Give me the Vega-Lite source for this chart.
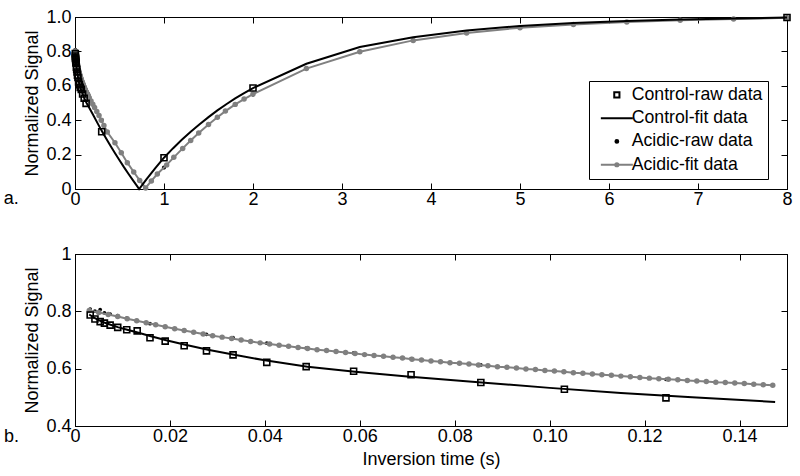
{
  "$schema": "https://vega.github.io/schema/vega-lite/v6.json",
  "padding": {"left": 3, "top": 7, "right": 5, "bottom": 5},
  "spacing": 35,
  "config": {
    "font": "Liberation Sans",
    "view": {"stroke": "black", "strokeWidth": 1},
    "axis": {"domainColor": "black", "domainWidth": 1, "tickColor": "black", "tickWidth": 1, "tickSize": -6, "labelColor": "black", "labelFont": "Liberation Sans", "labelFontSize": 18, "titleColor": "black", "titleFont": "Liberation Sans", "titleFontSize": 18, "titleFontWeight": "normal", "grid": false, "labelFlush": false, "labelOverlap": false},
    "axisX": {"labelPadding": 7},
    "axisY": {"labelPadding": 10},
    "legend": {"orient": "none", "legendX": 514, "legendY": 64, "labelFont": "Liberation Sans", "labelFontSize": 17.7, "labelColor": "black", "strokeColor": "black", "fillColor": "white", "padding": 5, "cornerRadius": 0, "symbolSize": 64, "symbolStrokeWidth": 2, "symbolOffset": 14, "labelOffset": 6, "rowPadding": 4.3, "symbolOpacity": 1}
  },
  "datasets": {
    "rawC": [
      {"t": 0.0032, "v": 0.787}, {"t": 0.0042, "v": 0.773}, {"t": 0.0053, "v": 0.764}, {"t": 0.0062, "v": 0.759}, {"t": 0.0074, "v": 0.752}, {"t": 0.009, "v": 0.744}, {"t": 0.0109, "v": 0.736}, {"t": 0.0131, "v": 0.732}, {"t": 0.0158, "v": 0.708}, {"t": 0.019, "v": 0.696}, {"t": 0.023, "v": 0.68}, {"t": 0.0277, "v": 0.662}, {"t": 0.0333, "v": 0.648}, {"t": 0.0404, "v": 0.622}, {"t": 0.0487, "v": 0.607}, {"t": 0.0587, "v": 0.591}, {"t": 0.0708, "v": 0.579}, {"t": 0.0855, "v": 0.552}, {"t": 0.1031, "v": 0.528}, {"t": 0.1245, "v": 0.498}, {"t": 0.3, "v": 0.333}, {"t": 1.0, "v": 0.182}, {"t": 2.0, "v": 0.587}, {"t": 8.0, "v": 0.997}
    ],
    "rawA": [
      {"t": 0.0032, "v": 0.808}, {"t": 0.0042, "v": 0.801}, {"t": 0.0053, "v": 0.806}, {"t": 0.0062, "v": 0.795}, {"t": 0.0074, "v": 0.79}, {"t": 0.009, "v": 0.785}, {"t": 0.0109, "v": 0.776}, {"t": 0.0131, "v": 0.768}, {"t": 0.0158, "v": 0.757}, {"t": 0.019, "v": 0.746}, {"t": 0.023, "v": 0.733}, {"t": 0.0277, "v": 0.72}, {"t": 0.0333, "v": 0.708}, {"t": 0.0404, "v": 0.689}, {"t": 0.0487, "v": 0.672}, {"t": 0.0587, "v": 0.655}, {"t": 0.0708, "v": 0.635}, {"t": 0.0855, "v": 0.613}, {"t": 0.1031, "v": 0.59}, {"t": 0.1245, "v": 0.563}, {"t": 0.3, "v": 0.4}, {"t": 1.0, "v": 0.125}, {"t": 2.0, "v": 0.55}, {"t": 8.0, "v": 0.995}
    ],
    "fitC": [
      {"t": 0.003, "v": 0.789}, {"t": 0.004, "v": 0.778}, {"t": 0.005, "v": 0.769}, {"t": 0.006, "v": 0.762}, {"t": 0.0075, "v": 0.753}, {"t": 0.009, "v": 0.745}, {"t": 0.011, "v": 0.736}, {"t": 0.013, "v": 0.727}, {"t": 0.016, "v": 0.713}, {"t": 0.019, "v": 0.7}, {"t": 0.023, "v": 0.684}, {"t": 0.028, "v": 0.666}, {"t": 0.033, "v": 0.65}, {"t": 0.04, "v": 0.629}, {"t": 0.049, "v": 0.607}, {"t": 0.059, "v": 0.589}, {"t": 0.07, "v": 0.573}, {"t": 0.085, "v": 0.553}, {"t": 0.1, "v": 0.533}, {"t": 0.115, "v": 0.515}, {"t": 0.13, "v": 0.5}, {"t": 0.1475, "v": 0.484},
      {"t": 0.2, "v": 0.434}, {"t": 0.25, "v": 0.386}, {"t": 0.3, "v": 0.338}, {"t": 0.35, "v": 0.293}, {"t": 0.4, "v": 0.25}, {"t": 0.45, "v": 0.208}, {"t": 0.5, "v": 0.167}, {"t": 0.55, "v": 0.127}, {"t": 0.6, "v": 0.089}, {"t": 0.65, "v": 0.052}, {"t": 0.7, "v": 0.015}, {"t": 0.72, "v": 0.0}, {"t": 0.75, "v": 0.02}, {"t": 0.8, "v": 0.055}, {"t": 0.9, "v": 0.12}, {"t": 1.0, "v": 0.182}, {"t": 1.1, "v": 0.236}, {"t": 1.2, "v": 0.286}, {"t": 1.3, "v": 0.333}, {"t": 1.4, "v": 0.377}, {"t": 1.5, "v": 0.418}, {"t": 1.6, "v": 0.457}, {"t": 1.7, "v": 0.493}, {"t": 1.8, "v": 0.527}, {"t": 1.9, "v": 0.558}, {"t": 2.0, "v": 0.587}, {"t": 2.6, "v": 0.728}, {"t": 3.2, "v": 0.826}, {"t": 3.8, "v": 0.882}, {"t": 4.4, "v": 0.921}, {"t": 5.0, "v": 0.948}, {"t": 5.6, "v": 0.965}, {"t": 6.2, "v": 0.977}, {"t": 6.8, "v": 0.986}, {"t": 7.4, "v": 0.992}, {"t": 8.0, "v": 0.997}
    ],
    "fitA": [
      {"t": 0.003, "v": 0.803}, {"t": 0.005, "v": 0.796}, {"t": 0.007, "v": 0.789}, {"t": 0.009, "v": 0.782}, {"t": 0.011, "v": 0.774}, {"t": 0.013, "v": 0.767}, {"t": 0.015, "v": 0.76}, {"t": 0.017, "v": 0.753}, {"t": 0.019, "v": 0.746}, {"t": 0.021, "v": 0.739},
      {"t": 0.023, "v": 0.733}, {"t": 0.025, "v": 0.727}, {"t": 0.027, "v": 0.721}, {"t": 0.029, "v": 0.715}, {"t": 0.031, "v": 0.71}, {"t": 0.033, "v": 0.705}, {"t": 0.035, "v": 0.7}, {"t": 0.037, "v": 0.695}, {"t": 0.039, "v": 0.69}, {"t": 0.041, "v": 0.686},
      {"t": 0.043, "v": 0.682}, {"t": 0.045, "v": 0.678}, {"t": 0.047, "v": 0.674}, {"t": 0.049, "v": 0.67}, {"t": 0.051, "v": 0.666}, {"t": 0.053, "v": 0.663}, {"t": 0.055, "v": 0.66}, {"t": 0.057, "v": 0.656}, {"t": 0.059, "v": 0.653}, {"t": 0.061, "v": 0.649},
      {"t": 0.063, "v": 0.646}, {"t": 0.065, "v": 0.643}, {"t": 0.067, "v": 0.64}, {"t": 0.069, "v": 0.637}, {"t": 0.071, "v": 0.633}, {"t": 0.073, "v": 0.63}, {"t": 0.075, "v": 0.627}, {"t": 0.077, "v": 0.624}, {"t": 0.079, "v": 0.621}, {"t": 0.081, "v": 0.619},
      {"t": 0.083, "v": 0.616}, {"t": 0.085, "v": 0.613}, {"t": 0.087, "v": 0.61}, {"t": 0.089, "v": 0.607}, {"t": 0.091, "v": 0.605}, {"t": 0.093, "v": 0.602}, {"t": 0.095, "v": 0.599}, {"t": 0.097, "v": 0.597}, {"t": 0.099, "v": 0.594}, {"t": 0.101, "v": 0.592},
      {"t": 0.103, "v": 0.589}, {"t": 0.105, "v": 0.586}, {"t": 0.107, "v": 0.584}, {"t": 0.109, "v": 0.581}, {"t": 0.111, "v": 0.579}, {"t": 0.113, "v": 0.577}, {"t": 0.115, "v": 0.574}, {"t": 0.117, "v": 0.572}, {"t": 0.119, "v": 0.569}, {"t": 0.121, "v": 0.567},
      {"t": 0.123, "v": 0.565}, {"t": 0.125, "v": 0.563}, {"t": 0.127, "v": 0.561}, {"t": 0.129, "v": 0.559}, {"t": 0.131, "v": 0.557}, {"t": 0.133, "v": 0.555}, {"t": 0.135, "v": 0.553}, {"t": 0.137, "v": 0.552}, {"t": 0.139, "v": 0.55}, {"t": 0.141, "v": 0.548},
      {"t": 0.143, "v": 0.546}, {"t": 0.145, "v": 0.544}, {"t": 0.147, "v": 0.542},
      {"t": 0.16, "v": 0.53}, {"t": 0.18, "v": 0.511}, {"t": 0.2, "v": 0.493}, {"t": 0.22, "v": 0.474}, {"t": 0.245, "v": 0.451}, {"t": 0.27, "v": 0.427}, {"t": 0.295, "v": 0.4}, {"t": 0.325, "v": 0.369}, {"t": 0.363, "v": 0.331}, {"t": 0.449, "v": 0.269},
      {"t": 0.52, "v": 0.211}, {"t": 0.588, "v": 0.153}, {"t": 0.66, "v": 0.099}, {"t": 0.727, "v": 0.05}, {"t": 0.794, "v": 0.006}, {"t": 0.858, "v": 0.047}, {"t": 0.925, "v": 0.087}, {"t": 1.03, "v": 0.14}, {"t": 1.11, "v": 0.184}, {"t": 1.21, "v": 0.236},
      {"t": 1.3, "v": 0.282}, {"t": 1.39, "v": 0.326}, {"t": 1.5, "v": 0.375}, {"t": 1.6, "v": 0.417}, {"t": 1.69, "v": 0.453}, {"t": 1.8, "v": 0.492}, {"t": 1.9, "v": 0.523}, {"t": 2.0, "v": 0.552}, {"t": 2.6, "v": 0.7}, {"t": 3.2, "v": 0.798},
      {"t": 3.8, "v": 0.864}, {"t": 4.4, "v": 0.907}, {"t": 5.0, "v": 0.938}, {"t": 5.6, "v": 0.957}, {"t": 6.2, "v": 0.971}, {"t": 6.8, "v": 0.981}, {"t": 7.4, "v": 0.988}, {"t": 8.0, "v": 0.995}
    ]
  },
  "vconcat": [
    {
      "width": 712,
      "height": 172,
      "resolve": {"axis": {"x": "independent", "y": "independent"}},
      "layer": [
        {
          "data": {"name": "rawA"},
          "mark": {"type": "point", "filled": true, "size": 144, "strokeWidth": 0, "opacity": 1},
          "encoding": {
            "x": {"field": "t", "type": "quantitative", "scale": {"domain": [0, 8], "nice": false, "zero": false}, "axis": {"orient": "bottom", "title": null, "values": [0, 1, 2, 3, 4, 5, 6, 7, 8]}},
            "y": {"field": "v", "type": "quantitative", "scale": {"domain": [0, 1], "nice": false, "zero": false}, "axis": {"orient": "left", "title": "Normalized Signal", "titlePadding": 4, "values": [0, 0.2, 0.4, 0.6, 0.8, 1], "labelExpr": "datum.value === 0 ? '0' : format(datum.value, '.1f')"}},
            "stroke": {"datum": "Acidic-raw data", "scale": {"domain": ["Control-raw data", "Control-fit data", "Acidic-raw data", "Acidic-fit data"], "range": ["black", "black", "black", "#808080"]}, "legend": {"title": null, "labelExpr": "datum.label + '\u00a0\u00a0\u00a0'"}},
            "fill": {"datum": "Acidic-raw data", "scale": {"domain": ["Control-raw data", "Control-fit data", "Acidic-raw data", "Acidic-fit data"], "range": ["transparent", "transparent", "black", "#808080"]}, "legend": {"title": null}},
            "shape": {"datum": "Acidic-raw data", "scale": {"domain": ["Control-raw data", "Control-fit data", "Acidic-raw data", "Acidic-fit data"], "range": ["M-0.65,-0.65L0.65,-0.65L0.65,0.65L-0.65,0.65Z", "M-4,0L4,0", "M-0.35,0A0.35,0.35,0,1,1,0.35,0A0.35,0.35,0,1,1,-0.35,0Z", "M-4,0L4,0M-0.4,0A0.4,0.4,0,1,1,0.4,0A0.4,0.4,0,1,1,-0.4,0Z"]}, "legend": {"title": null}}
          }
        },
        {
          "data": {"name": "fitA"},
          "mark": {"type": "line", "strokeWidth": 2},
          "encoding": {
            "x": {"field": "t", "type": "quantitative", "axis": {"orient": "top", "labels": false, "title": null, "values": [0, 1, 2, 3, 4, 5, 6, 7, 8]}},
            "y": {"field": "v", "type": "quantitative", "axis": {"orient": "right", "labels": false, "title": null, "values": [0, 0.2, 0.4, 0.6, 0.8, 1]}},
            "stroke": {"datum": "Acidic-fit data", "legend": {"title": null}}
          }
        },
        {
          "data": {"name": "fitA"},
          "mark": {"type": "point", "shape": "circle", "filled": true, "size": 30, "strokeWidth": 0, "opacity": 1},
          "encoding": {
            "x": {"field": "t", "type": "quantitative", "axis": null},
            "y": {"field": "v", "type": "quantitative", "axis": null},
            "fill": {"datum": "Acidic-fit data", "legend": {"title": null}}
          }
        },
        {
          "data": {"name": "fitC"},
          "mark": {"type": "line", "strokeWidth": 2},
          "encoding": {
            "x": {"field": "t", "type": "quantitative", "axis": null},
            "y": {"field": "v", "type": "quantitative", "axis": null},
            "stroke": {"datum": "Control-fit data", "legend": {"title": null}}
          }
        },
        {
          "data": {"name": "rawC"},
          "mark": {"type": "point", "filled": true, "size": 85, "strokeWidth": 1.6, "opacity": 1},
          "encoding": {
            "x": {"field": "t", "type": "quantitative", "axis": null},
            "y": {"field": "v", "type": "quantitative", "axis": null},
            "stroke": {"datum": "Control-raw data", "legend": {"title": null}},
            "fill": {"datum": "Control-raw data", "legend": {"title": null}},
            "shape": {"datum": "Control-raw data", "legend": {"title": null}}
          }
        },
        {
          "data": {"values": [{"lab": "a."}]},
          "mark": {"type": "text", "align": "left", "baseline": "alphabetic", "fontSize": 18, "font": "Liberation Sans", "color": "black"},
          "encoding": {
            "x": {"datum": -0.8, "type": "quantitative", "axis": null},
            "y": {"datum": -0.087, "type": "quantitative", "axis": null},
            "text": {"field": "lab"}
          }
        }
      ]
    },
    {
      "width": 712,
      "height": 172,
      "resolve": {"axis": {"x": "independent", "y": "independent"}},
      "layer": [
        {
          "data": {"name": "rawA"},
          "transform": [{"filter": "datum.t < 0.149"}],
          "mark": {"type": "point", "shape": "circle", "filled": true, "size": 14, "opacity": 1, "color": "black"},
          "encoding": {
            "x": {"field": "t", "type": "quantitative", "scale": {"domain": [0, 0.15], "nice": false, "zero": false}, "axis": {"orient": "bottom", "title": "Inversion time (s)", "titlePadding": 5, "values": [0, 0.02, 0.04, 0.06, 0.08, 0.1, 0.12, 0.14], "labelExpr": "datum.value === 0 ? '0' : format(datum.value, '.2f')"}},
            "y": {"field": "v", "type": "quantitative", "scale": {"domain": [0.4, 1], "nice": false, "zero": false}, "axis": {"orient": "left", "title": "Normalized Signal", "titlePadding": 4, "values": [0.4, 0.6, 0.8, 1], "labelExpr": "datum.value === 1 ? '1' : format(datum.value, '.1f')"}}
          }
        },
        {
          "data": {"name": "fitA"},
          "transform": [{"filter": "datum.t < 0.149"}],
          "mark": {"type": "line", "strokeWidth": 2, "color": "#808080", "point": {"filled": true, "size": 30, "opacity": 1, "color": "#808080"}},
          "encoding": {
            "x": {"field": "t", "type": "quantitative", "axis": {"orient": "top", "labels": false, "title": null, "values": [0, 0.02, 0.04, 0.06, 0.08, 0.1, 0.12, 0.14]}},
            "y": {"field": "v", "type": "quantitative", "axis": {"orient": "right", "labels": false, "title": null, "values": [0.4, 0.6, 0.8, 1]}}
          }
        },
        {
          "data": {"name": "fitC"},
          "transform": [{"filter": "datum.t < 0.149"}],
          "mark": {"type": "line", "strokeWidth": 2, "color": "black"},
          "encoding": {
            "x": {"field": "t", "type": "quantitative", "axis": null},
            "y": {"field": "v", "type": "quantitative", "axis": null}
          }
        },
        {
          "data": {"name": "rawC"},
          "transform": [{"filter": "datum.t < 0.149"}],
          "mark": {"type": "point", "shape": "square", "filled": false, "size": 36, "strokeWidth": 1.6, "opacity": 1, "color": "black"},
          "encoding": {
            "x": {"field": "t", "type": "quantitative", "axis": null},
            "y": {"field": "v", "type": "quantitative", "axis": null}
          }
        },
        {
          "data": {"values": [{"lab": "b."}]},
          "mark": {"type": "text", "align": "left", "baseline": "alphabetic", "fontSize": 18, "font": "Liberation Sans", "color": "black"},
          "encoding": {
            "x": {"datum": -0.01496, "type": "quantitative", "axis": null},
            "y": {"datum": 0.344, "type": "quantitative", "axis": null},
            "text": {"field": "lab"}
          }
        }
      ]
    }
  ]
}
